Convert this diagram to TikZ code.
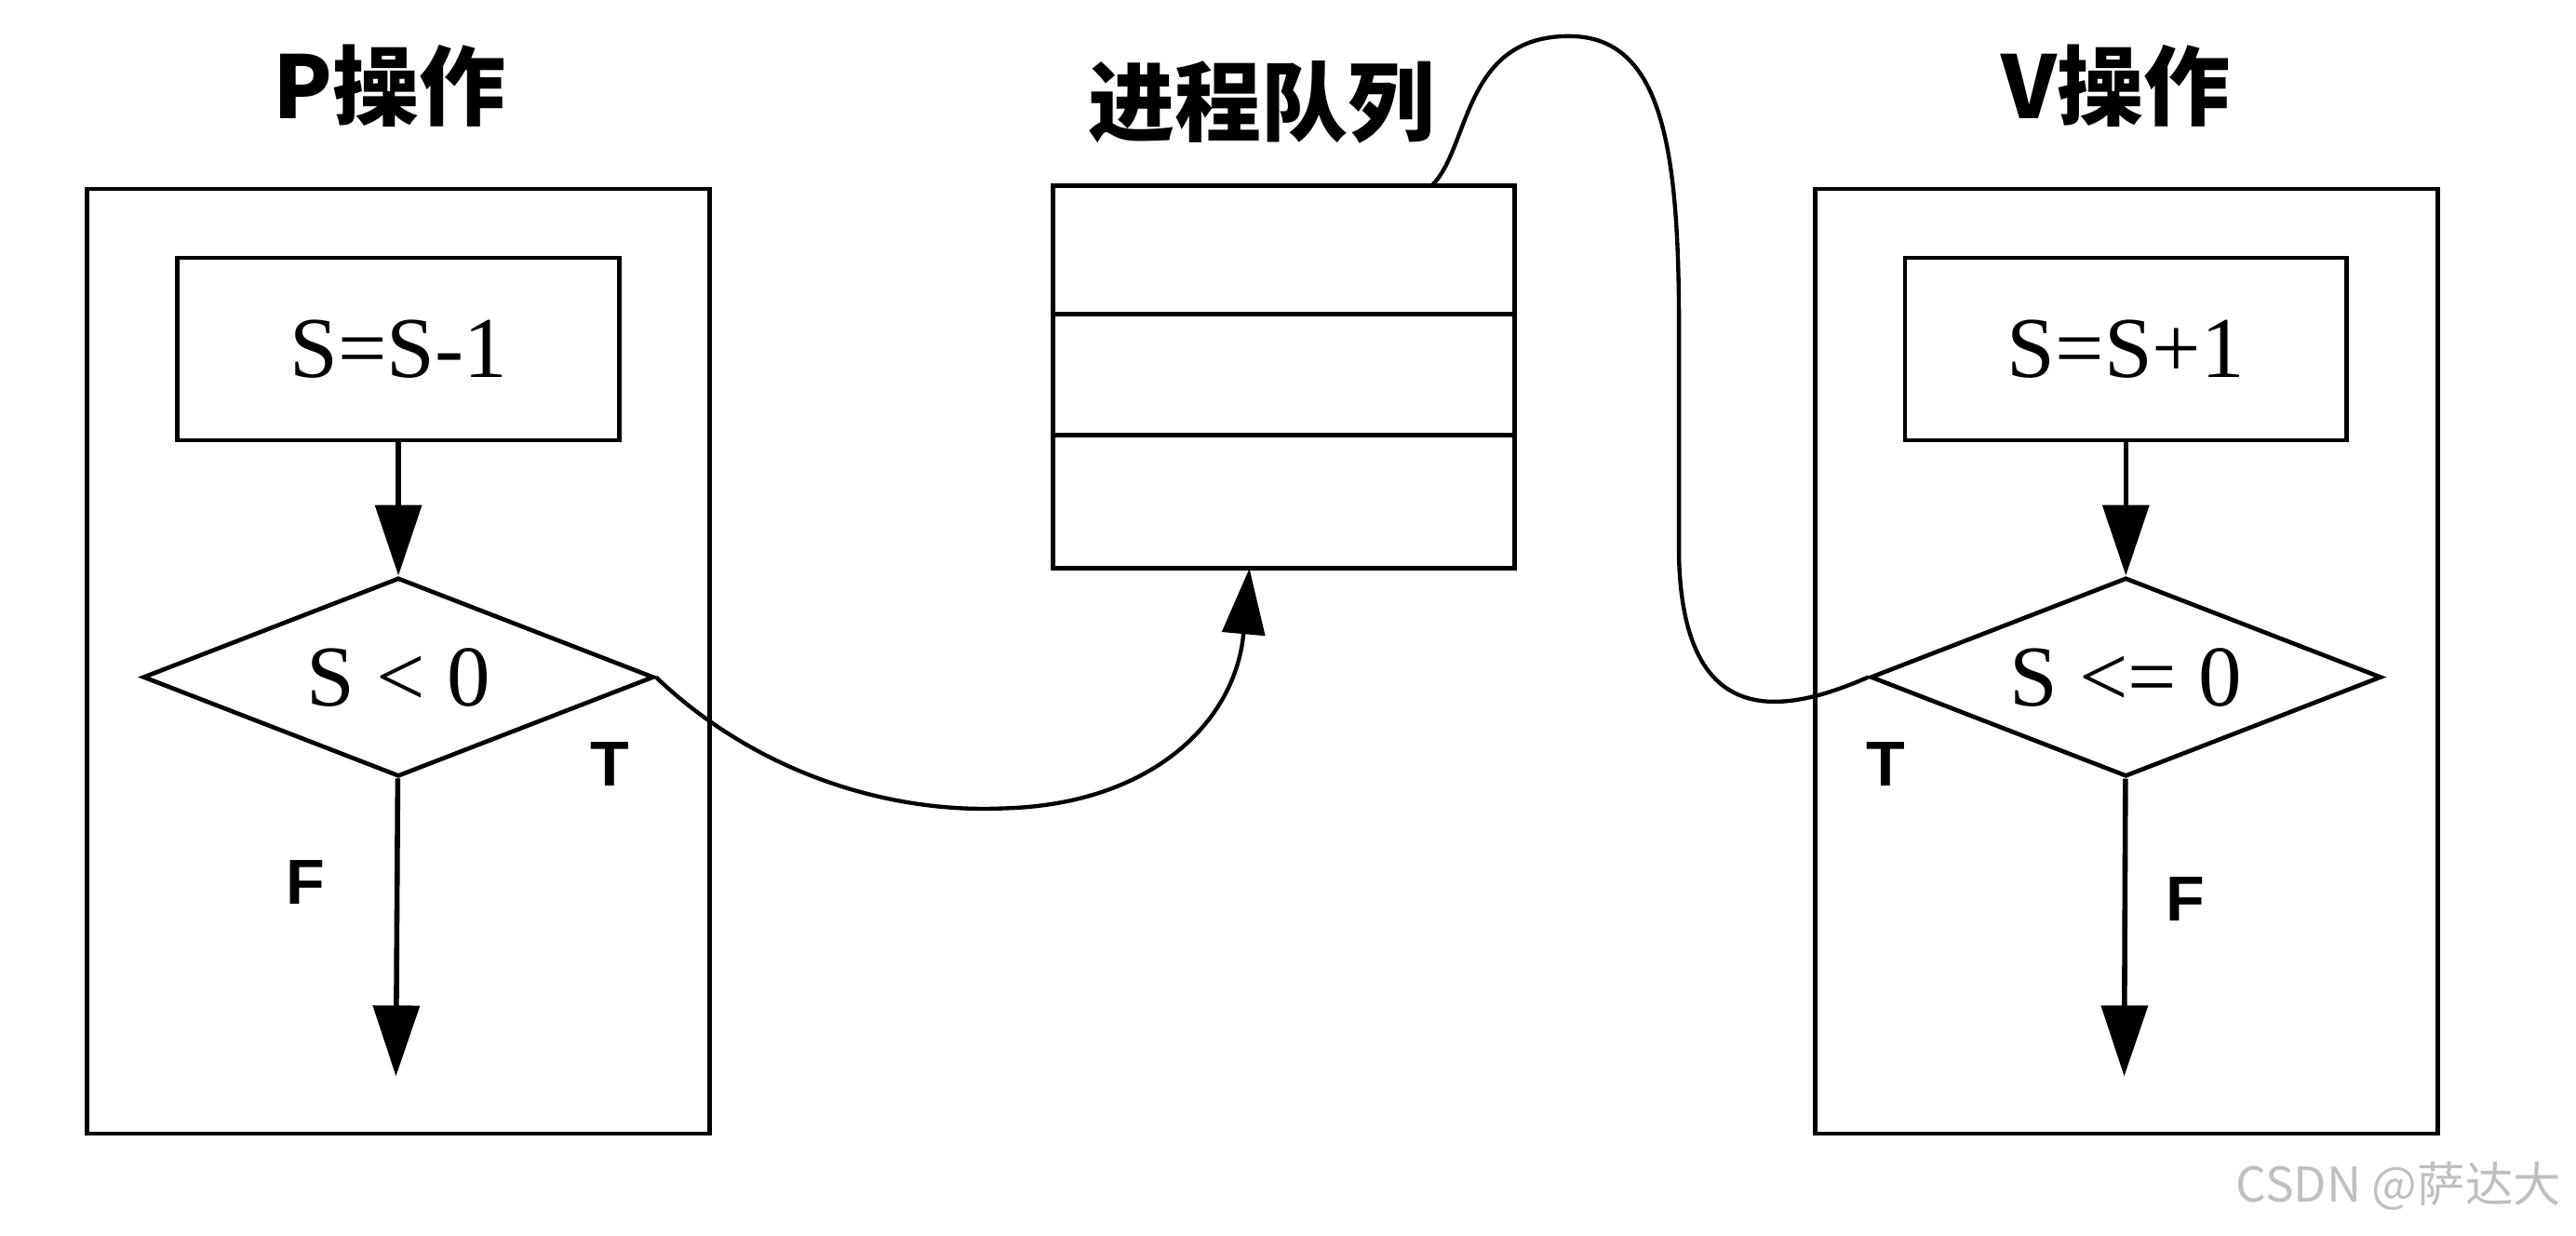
\documentclass[tikz,border=0pt]{standalone}
\usepackage{fontspec}
\setmainfont{Liberation Serif}
\newfontfamily\cjk{Noto Sans CJK SC}
\newfontfamily\tfsans{Liberation Sans}
\usetikzlibrary{arrows.meta, positioning, shapes.geometric}

\begin{document}
\begin{tikzpicture}[
x=0.1mm, y=-0.1mm,
line width=0.75pt,
frame/.style={
rectangle, draw,
minimum width=37.9mm, minimum height=57.5mm
},
opbox/.style={
rectangle, draw,
minimum width=26.9mm, minimum height=11.1mm,
font=\fontsize{15}{18}\selectfont
},
test/.style={
diamond, draw,
aspect=2.57, inner sep=0pt,
minimum width=31.1mm, minimum height=12.1mm,
font=\fontsize{15}{18}\selectfont
},
cell/.style={
rectangle, draw, outer sep=0pt,
minimum width=28.1mm
},
title/.style={font=\cjk\bfseries\fontsize{15}{18}\selectfont},
tflabel/.style={font=\tfsans\bfseries\fontsize{11}{13}\selectfont},
arrow/.style={-{Triangle[length=4.3mm, width=2.8mm]}, line width=0.9pt},
link/.style={-{Triangle[length=4mm, width=2.6mm]}, line width=0.7pt}
]
\useasboundingbox (0,0) rectangle (1568,752);

% P operation
\node[title] (ptitle) at (237,52) {P操作};
\node[frame] (pbox) at (242.5,402.5) {};
\node[opbox] (pinc) at (242.5,212.5) {S=S-1};
\node[test, below=8.1mm of pinc] (ptest) {S < 0};
\coordinate (pend) at (241,655);
\node[tflabel] (pt) at (371,465) {T};
\node[tflabel] (pf) at (186,537) {F};

% process queue
\node[title] (qtitle) at (768,62) {进程队列};
\node[cell, minimum height=7.8mm] (q1) at (781.5,152) {};
\node[cell, minimum height=7.4mm, below=0pt of q1] (q2) {};
\node[cell, minimum height=8.1mm, below=0pt of q2] (q3) {};
\coordinate (qin) at ([xshift=-2.1mm]q3.south);
\coordinate (qout) at ([xshift=9mm]q1.north);

% V operation
\node[title] (vtitle) at (1288,52) {V操作};
\node[frame] (vbox) at (1294.5,402.5) {};
\node[opbox] (vinc) at (1294,212.5) {S=S+1};
\node[test, below=8.1mm of vinc] (vtest) {S <= 0};
\coordinate (vend) at (1293,655);
\node[tflabel] (vt) at (1148,465) {T};
\node[tflabel] (vf) at (1330,547) {F};

\node[font=\cjk\fontsize{8.3}{10}\selectfont, text=black!25, inner sep=1pt] (mark) at (1460,722) {CSDN @萨达大};

\draw[arrow] (pinc) -- (ptest);
\draw[arrow] (ptest) -- (pend);
\draw[arrow] (vinc) -- (vtest);
\draw[arrow] (vtest) -- (vend);

\draw[link] (ptest.east) .. controls (460,470) and (540,495) .. (610,492)
  .. controls (700,490) and (752,440) .. (qin);
\draw[line width=0.7pt] (qout) .. controls (895,90) and (890,22) .. (955,22)
  .. controls (1012,22) and (1022,90) .. (1022,200) -- (1022,340)
  .. controls (1025,445) and (1085,435) .. (vtest.west);
\end{tikzpicture}
\end{document}
